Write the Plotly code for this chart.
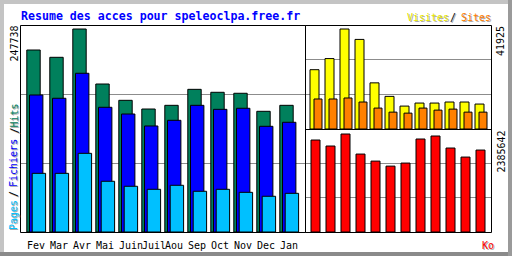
import plotly.graph_objects as go

# ---------------- data ----------------
months = ["Fev", "Mar", "Avr", "Mai", "Juin", "Juil", "Aou", "Sep", "Oct", "Nov", "Dec", "Jan"]
hits = [222100, 213200, 247738, 180600, 160700, 150100, 154600, 174100, 170500, 169300, 147300, 154600]
files = [167200, 163200, 193700, 152200, 144000, 129400, 136300, 154600, 149700, 151000, 129000, 133900]
pages = [71600, 71600, 96000, 61900, 55800, 52100, 57000, 49700, 52100, 48400, 43600, 47200]
visits = [24860, 29520, 41925, 37560, 19350, 13680, 9610, 10880, 10880, 11310, 11310, 10460]
sites = [12580, 12580, 13000, 11310, 8770, 7070, 6650, 8770, 7920, 8340, 7070, 7070]
kbytes = [2239000, 2093000, 2385642, 1897000, 1726000, 1604000, 1678000, 2264000, 2337000, 2044000, 1824000, 1995000]

title_text = "Resume des acces pour speleoclpa.free.fr"
lbl_pages, lbl_files, lbl_hits = "Pages", "Fichiers", "Hits"
lbl_visits, lbl_sites, lbl_kb = "Visites", "Sites", "Ko"

# ---------------- styling ----------------
W, H = 512, 256
C_HITS, C_FILES, C_PAGES = "#00805C", "#0000FF", "#00C0FF"
C_VISITS, C_SITES, C_KB = "#FFFF00", "#FF8000", "#FF0000"
GRID = "#8C8C8C"
MONO = "DejaVu Sans Mono"
SHADOW = "#A8A8A8"


def px(x):
    return x / W


def py(y):
    return 1 - y / H


fig = go.Figure()

line = dict(color="black", width=1)
# left panel: 23 px per month
lw = 13.4 / 23
fig.add_bar(x=months, y=hits, xaxis="x", yaxis="y", offset=0, width=lw,
            marker=dict(color=C_HITS, line=line))
fig.add_bar(x=months, y=files, xaxis="x", yaxis="y", offset=2.7 / 23, width=lw,
            marker=dict(color=C_FILES, line=line))
fig.add_bar(x=months, y=pages, xaxis="x", yaxis="y", offset=5.4 / 23, width=lw,
            marker=dict(color=C_PAGES, line=line))
# right panels: 15 px per month
fig.add_bar(x=months, y=visits, xaxis="x2", yaxis="y2", offset=0, width=9 / 15,
            marker=dict(color=C_VISITS, line=line))
fig.add_bar(x=months, y=sites, xaxis="x2", yaxis="y2", offset=4 / 15, width=8 / 15,
            marker=dict(color=C_SITES, line=line))
fig.add_bar(x=months, y=kbytes, xaxis="x3", yaxis="y3", offset=1 / 15, width=9 / 15,
            marker=dict(color=C_KB, line=line))

R1 = max(hits) * 207 / 203
R2 = max(visits) * 104 / 100
R3 = max(kbytes) * 103 / 98

common_x = dict(type="category", showticklabels=False, showgrid=False, zeroline=False,
                ticks="", showline=False, fixedrange=True)
common_y = dict(showticklabels=False, showgrid=True, gridcolor=GRID, gridwidth=1,
                zeroline=False, ticks="", showline=False, fixedrange=True, tick0=0)

r0L = -6.8 / 23
r0R = -5 / 15
fig.update_layout(
    width=W, height=H, margin=dict(l=0, r=0, t=0, b=0),
    paper_bgcolor="white", plot_bgcolor="rgba(0,0,0,0)",
    showlegend=False, barmode="overlay",
    xaxis=dict(common_x, domain=[px(20), px(305)], range=[r0L, r0L + 285 / 23], anchor="y"),
    yaxis=dict(common_y, domain=[py(232), py(25)], range=[0, R1], dtick=R1 / 3, anchor="x"),
    xaxis2=dict(common_x, domain=[px(305), px(491)], range=[r0R, r0R + 186 / 15], anchor="y2"),
    yaxis2=dict(common_y, domain=[py(129), py(25)], range=[0, R2], dtick=R2 / 3, anchor="x2"),
    xaxis3=dict(common_x, domain=[px(305), px(491)], range=[r0R, r0R + 186 / 15], anchor="y3"),
    yaxis3=dict(common_y, domain=[py(232), py(129)], range=[0, R3], dtick=R3 / 3, anchor="x3"),
)

# frame (bevel) and panel outlines
shapes = [
    dict(type="rect", xref="paper", yref="paper", x0=px(0), x1=px(512), y0=py(0), y1=py(4),
         fillcolor="#C4C4C4", line=dict(width=0), layer="below"),
    dict(type="rect", xref="paper", yref="paper", x0=px(0), x1=px(4), y0=py(0), y1=py(256),
         fillcolor="#C4C4C4", line=dict(width=0), layer="below"),
    dict(type="rect", xref="paper", yref="paper", x0=px(0), x1=px(512), y0=py(252), y1=py(256),
         fillcolor="#8A8A8A", line=dict(width=0), layer="below"),
    dict(type="rect", xref="paper", yref="paper", x0=px(508), x1=px(512), y0=py(0), y1=py(256),
         fillcolor="#9A9A9A", line=dict(width=0), layer="below"),
    dict(type="rect", xref="paper", yref="paper", x0=px(20.5), x1=px(305.5), y0=py(232.5), y1=py(25.5),
         line=dict(color="black", width=1), layer="above"),
    dict(type="rect", xref="paper", yref="paper", x0=px(305.5), x1=px(491.5), y0=py(232.5), y1=py(25.5),
         line=dict(color="black", width=1), layer="above"),
    dict(type="line", xref="paper", yref="paper", x0=px(305.5), x1=px(491.5), y0=py(129.5), y1=py(129.5),
         line=dict(color="black", width=1), layer="above"),
]
fig.update_layout(shapes=shapes)

ann = []


def text(t, x, y, color, size=10, angle=0, xanchor="center", shadow=False, bold=False):
    s = "<b>%s</b>" % t if bold else t
    if shadow:
        ann.append(dict(text=s, x=px(x + 1), y=py(y + 1), xref="paper", yref="paper",
                        xanchor=xanchor, yanchor="middle", showarrow=False, textangle=angle,
                        font=dict(family=MONO, size=size, color=SHADOW)))
    ann.append(dict(text=s, x=px(x), y=py(y), xref="paper", yref="paper",
                    xanchor=xanchor, yanchor="middle", showarrow=False, textangle=angle,
                    font=dict(family=MONO, size=size, color=color)))


# title
text(title_text, 18.5, 15.5, "#0000FF", size=11.6, xanchor="left", bold=True)
# visits / sites legend
text(lbl_visits, 404.5, 17.5, "#E8E800", xanchor="left", shadow=True)
text("/", 453, 17.5, "black", shadow=True)
text(lbl_sites, 458.5, 17.5, C_SITES, xanchor="left", shadow=True)
# Ko
text(lbl_kb, 487.5, 245.5, C_KB, shadow=True)
# vertical legend left
text(lbl_pages, 13.5, 215.5, C_PAGES, angle=-90, shadow=True)
text("/", 13.5, 194.5, "black", angle=-90, shadow=True)
text(lbl_files, 13.5, 163.5, C_FILES, angle=-90, shadow=True)
text("/", 13.5, 131, "black", angle=-90, shadow=True)
text(lbl_hits, 13.5, 116, C_HITS, angle=-90, shadow=True)
# max values
text(str(max(hits)), 13.5, 44, "black", angle=-90)
text(str(max(visits)), 500.5, 41.5, "black", angle=-90)
text(str(max(kbytes)), 500.5, 152, "black", angle=-90)

# month labels (left aligned on the hits bar)
for m in months:
    ann.append(dict(text=m, x=m, xref="x", y=py(245.5), yref="paper", xanchor="left",
                    yanchor="middle", xshift=-1.5, showarrow=False,
                    font=dict(family=MONO, size=10, color="black")))

fig.update_layout(annotations=ann)
fig.write_html("out.html")
